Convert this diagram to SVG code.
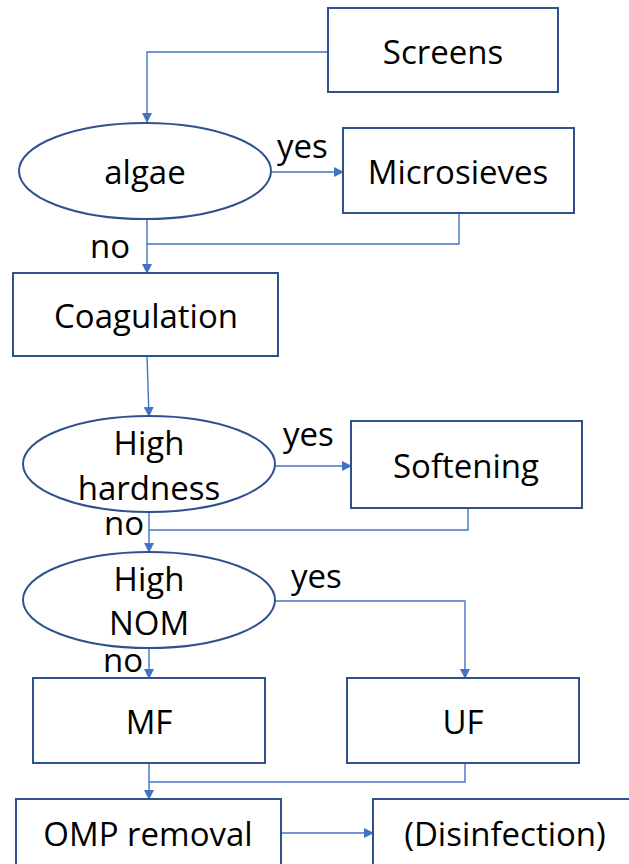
<svg xmlns="http://www.w3.org/2000/svg" width="629" height="864" viewBox="0 0 629 864">
<style>
.box{fill:#fff;stroke:#2F528F;stroke-width:2}
.el{fill:#fff;stroke:#2F528F;stroke-width:2}
.c{fill:none;stroke:#4472C4;stroke-width:1.4}
text{font-family:"Open Sans","Noto Sans",sans-serif;font-size:33px;fill:#000}
.m{text-anchor:middle}
</style>
<defs>
<marker id="a" markerWidth="10" markerHeight="10" refX="9" refY="5" orient="auto" markerUnits="userSpaceOnUse">
<path d="M0,0 L10,5 L0,10 Z" fill="#4472C4"/>
</marker>
</defs>
<rect width="629" height="864" fill="#fff"/>
<g id="connectors">
<path class="c" d="M328,52 H147 V122" marker-end="url(#a)"/>
<path class="c" d="M271,172 H343" marker-end="url(#a)"/>
<path class="c" d="M147,219 V273" marker-end="url(#a)"/>
<path class="c" d="M459,213 V244 H147"/>
<path class="c" d="M147,356 L149,416" marker-end="url(#a)"/>
<path class="c" d="M275,466 H351" marker-end="url(#a)"/>
<path class="c" d="M149,513 V552" marker-end="url(#a)"/>
<path class="c" d="M468,508 V530 H149"/>
<path class="c" d="M275,601 H465 V678" marker-end="url(#a)"/>
<path class="c" d="M149,648 V678" marker-end="url(#a)"/>
<path class="c" d="M149,763 V799" marker-end="url(#a)"/>
<path class="c" d="M465,763 V782 H149"/>
<path class="c" d="M281,833 H373" marker-end="url(#a)"/>
<text x="277" y="158">yes</text>
<text x="90" y="258">no</text>
<text x="283" y="446">yes</text>
<text x="104" y="535">no</text>
<text x="291" y="588">yes</text>
<text x="103" y="672">no</text>
</g>
<g id="screens"><rect class="box" x="328" y="8" width="230" height="84"/><text class="m" x="443" y="64">Screens</text></g>
<g id="algae"><ellipse class="el" cx="145" cy="171" rx="126" ry="48"/><text class="m" x="145" y="184">algae</text></g>
<g id="microsieves"><rect class="box" x="343" y="128" width="231" height="85"/><text class="m" x="458" y="184">Microsieves</text></g>
<g id="coagulation"><rect class="box" x="13" y="273" width="265" height="83"/><text class="m" x="146" y="328">Coagulation</text></g>
<g id="hardness"><ellipse class="el" cx="149" cy="464" rx="126" ry="48"/><text class="m" x="149" y="455">High</text><text class="m" x="149" y="500">hardness</text></g>
<g id="softening"><rect class="box" x="351" y="421" width="231" height="87"/><text class="m" x="466" y="478">Softening</text></g>
<g id="nom"><ellipse class="el" cx="149" cy="600" rx="126" ry="48"/><text class="m" x="149" y="591">High</text><text class="m" x="149" y="635">NOM</text></g>
<g id="mf"><rect class="box" x="33" y="678" width="232" height="85"/><text class="m" x="149" y="734">MF</text></g>
<g id="uf"><rect class="box" x="347" y="678" width="232" height="85"/><text class="m" x="463" y="734">UF</text></g>
<g id="omp"><rect class="box" x="16" y="799" width="265" height="80"/><text class="m" x="148" y="846">OMP removal</text></g>
<g id="disinfection"><rect class="box" x="373" y="799" width="270" height="80"/><text class="m" x="505" y="846">(Disinfection)</text></g>
</svg>
